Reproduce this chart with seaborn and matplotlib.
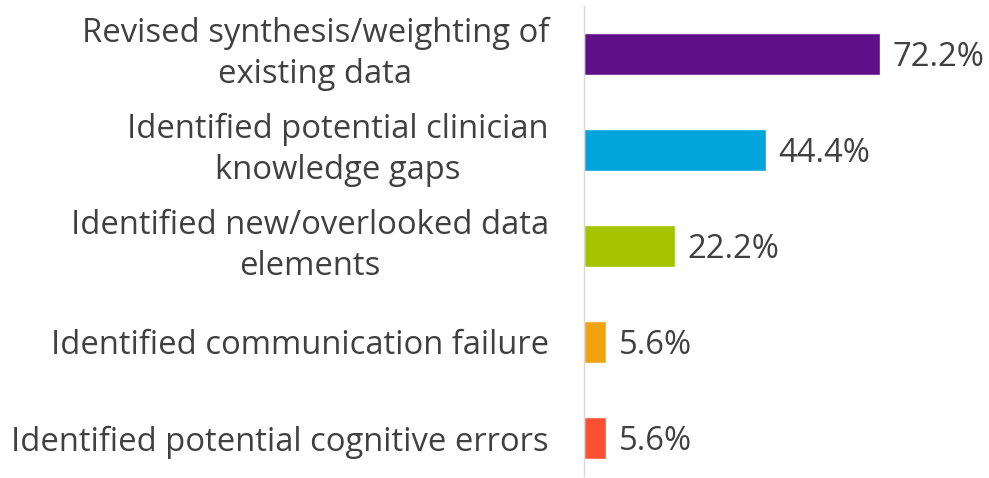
import matplotlib
matplotlib.use("Agg")
import matplotlib.pyplot as plt
import seaborn as sns
import pandas as pd

# Datos del gráfico
categorias = [
    "Revised synthesis/weighting of\nexisting data",
    "Identified potential clinician\nknowledge gaps",
    "Identified new/overlooked data\nelements",
    "Identified communication failure",
    "Identified potential cognitive errors",
]
valores = [72.2, 44.4, 22.2, 5.6, 5.6]
colores = ["#5E0F89", "#00A3DA", "#A6C300", "#F0A30F", "#FF5033"]

sns.set_style("white")
plt.rcParams['font.family'] = ['Open Sans', 'DejaVu Sans']

df = pd.DataFrame({"categoria": categorias, "valor": valores})

fig = plt.figure(figsize=(9.89, 4.78), dpi=100)
ax = fig.add_axes([583.5 / 989, 1 - 476 / 478, 390 / 989, 470 / 478])

sns.barplot(data=df, x="valor", y="categoria", hue="categoria",
            palette=colores, legend=False, width=0.44, orient="h",
            saturation=1, ax=ax)

ax.set_xlim(0, 95)
ax.set_ylim(4.396, -0.5)
ax.set_xlabel("")
ax.set_ylabel("")
ax.set_xticks([])

for s in ["top", "right", "bottom"]:
    ax.spines[s].set_visible(False)
ax.spines["left"].set_color("#D9D9D9")
ax.spines["left"].set_linewidth(1.0)

ax.tick_params(axis="y", length=0, pad=25, labelsize=23.6, labelcolor="#404040")
for lbl in ax.get_yticklabels():
    lbl.set_multialignment("center")
    lbl.set_linespacing(1.33)
    # etiquetas de dos líneas centradas en la barra
    if "\n" in lbl.get_text():
        lbl.set_verticalalignment("center")

# Etiquetas de valor
for i, v in enumerate(valores):
    ax.annotate(f"{v:.1f}%", xy=(v, i), xytext=(9, 0), textcoords="offset points",
                va="center_baseline", ha="left", fontsize=23.6, color="#404040")

fig.savefig("out.png", dpi=100)
